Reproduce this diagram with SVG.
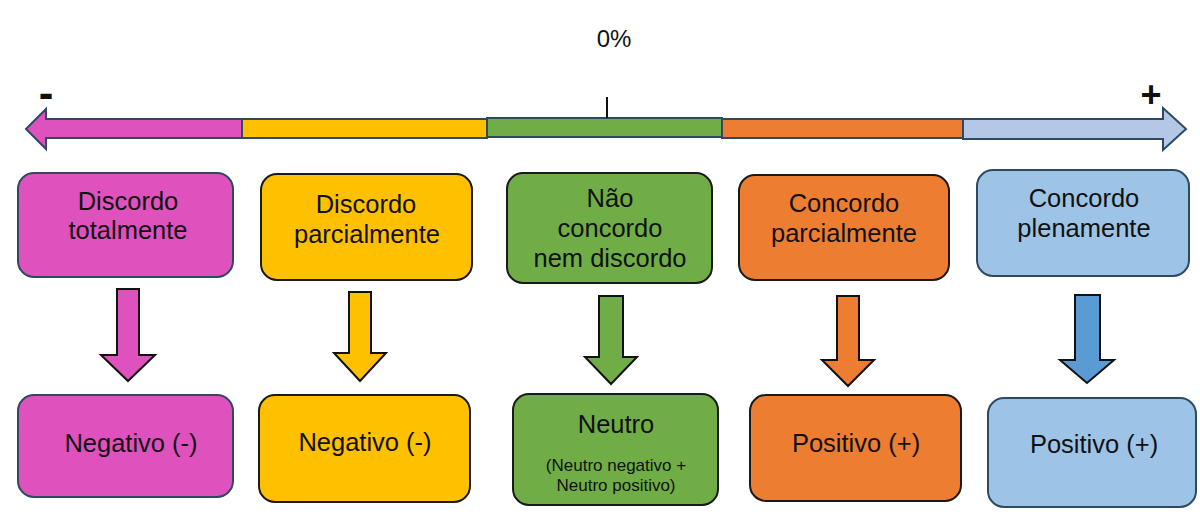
<svg xmlns="http://www.w3.org/2000/svg" width="1200" height="524" viewBox="0 0 1200 524">
<style>
text{font-family:"Liberation Sans",Arial,sans-serif;fill:#111;text-anchor:middle}
.t{font-size:25.5px}
.s{font-size:17px}
.box{stroke:#1a1a1a;stroke-width:2}
.bx{stroke:#2e4a62;stroke-width:2}
.seg{stroke:#2e4a62;stroke-width:2}
.dn{stroke:#111;stroke-width:2}
</style>
<rect width="1200" height="524" fill="#fff"/>
<g id="axis">
<polygon class="seg" fill="#df52be" points="26,129 46,109 46,119 242,119 242,138 46,138 46,149"/>
<rect class="seg" fill="#ffc000" x="242" y="119" width="245" height="19"/>
<rect class="seg" fill="#70ad47" x="487" y="118" width="235" height="19"/>
<rect class="seg" fill="#ed7d31" x="722" y="119" width="241" height="19"/>
<polygon class="seg" fill="#b4c7e7" points="963,119 1163,119 1163,108 1186,129 1163,150 1163,139 963,139"/>
<line x1="607" y1="97" x2="607" y2="118" stroke="#111" stroke-width="2"/>
<text x="614" y="47" style="font-size:24px">0%</text>
<text x="46" y="108" style="font-size:44px;font-weight:bold">-</text>
<text x="1151" y="107" style="font-size:36px;font-weight:bold">+</text>
</g>
<g id="top1"><rect class="bx" fill="#df52be" x="18" y="173" width="215" height="104" rx="16"/><text class="t" x="128" y="210">Discordo</text><text class="t" x="128" y="239">totalmente</text></g>
<g id="top2"><rect class="box" fill="#ffc000" x="261" y="174" width="211" height="106" rx="16"/><text class="t" x="366" y="213">Discordo</text><text class="t" x="367" y="243">parcialmente</text></g>
<g id="top3"><rect class="box" fill="#70ad47" x="507" y="173" width="205" height="110" rx="16"/><text class="t" x="610" y="207">Não</text><text class="t" x="610" y="237">concordo</text><text class="t" x="610" y="267">nem discordo</text></g>
<g id="top4"><rect class="box" fill="#ed7d31" x="739" y="175" width="210" height="105" rx="16"/><text class="t" x="844" y="212">Concordo</text><text class="t" x="844" y="242">parcialmente</text></g>
<g id="top5"><rect class="bx" fill="#9dc3e6" x="977" y="170" width="212" height="106" rx="16"/><text class="t" x="1084" y="207">Concordo</text><text class="t" x="1084" y="237">plenamente</text></g>
<g id="connectors">
<polygon class="dn" fill="#df52be" points="117,289 139,289 139,355 155,355 128,381 101,355 117,355"/>
<polygon class="dn" fill="#ffc000" points="349,292 371,292 371,353 386,353 360,381 334,353 349,353"/>
<polygon class="dn" fill="#70ad47" points="599,296 623,296 623,357 637,357 611,384 585,357 599,357"/>
<polygon class="dn" fill="#ed7d31" points="837,296 859,296 859,360 874,360 848,386 822,360 837,360"/>
<polygon class="dn" fill="#5b9bd5" points="1075,295 1100,295 1100,360 1114,360 1087,383 1060,360 1075,360"/>
</g>
<g id="bot1"><rect class="bx" fill="#df52be" x="18" y="395" width="215" height="102" rx="16"/><text class="t" x="131" y="452">Negativo (-)</text></g>
<g id="bot2"><rect class="box" fill="#ffc000" x="259" y="395" width="211" height="107" rx="16"/><text class="t" x="365" y="451">Negativo (-)</text></g>
<g id="bot3"><rect class="box" fill="#70ad47" x="513" y="394" width="205" height="111" rx="16"/><text class="t" x="616" y="433">Neutro</text><text class="s" x="616" y="471">(Neutro negativo +</text><text class="s" x="616" y="491">Neutro positivo)</text></g>
<g id="bot4"><rect class="box" fill="#ed7d31" x="750" y="395" width="211" height="106" rx="16"/><text class="t" x="856" y="452">Positivo (+)</text></g>
<g id="bot5"><rect class="bx" fill="#9dc3e6" x="988" y="398" width="208" height="109" rx="16"/><text class="t" x="1094" y="453">Positivo (+)</text></g>
</svg>
